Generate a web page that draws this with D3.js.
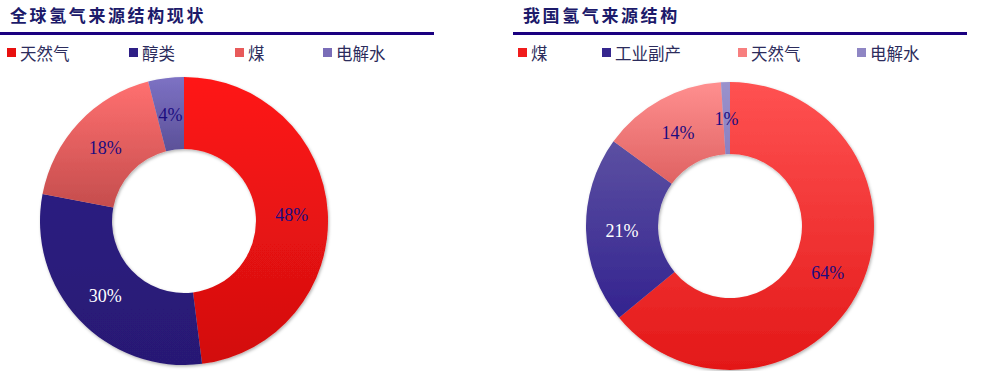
<!DOCTYPE html>
<html>
<head>
<meta charset="utf-8">
<script src="https://cdn.jsdelivr.net/npm/d3@7"></script>
<style>
  body { margin: 0; background: #fff; }
</style>
</head>
<body>
<script>
'use strict';

// left chart data
const globalTitle = "全球氢气来源结构现状";
const globalCats = ["天然气", "醇类", "煤", "电解水"];
const globalValues = [48, 30, 18, 4];

// right chart data
const chinaTitle = "我国氢气来源结构";
const chinaCats = ["煤", "工业副产", "天然气", "电解水"];
const chinaValues = [64, 21, 14, 1];

(function() {

  let svgContainer = "";

  window.onload = function() {
    svgContainer = d3.select('body')
      .append('svg')
      .attr('width', 985)
      .attr('height', 371);

    let defs = svgContainer.append('defs');
    let shadow = defs.append('filter')
      .attr('id', 'shadow')
      .attr('x', '-10%').attr('y', '-10%')
      .attr('width', '120%').attr('height', '120%');
    shadow.append('feDropShadow')
      .attr('dx', 1).attr('dy', 1.5)
      .attr('stdDeviation', 1.5)
      .attr('flood-color', '#000')
      .attr('flood-opacity', 0.3);

    makeDonut({
      id: 'g',
      title: globalTitle,
      cats: globalCats,
      values: globalValues,
      // [top colour, bottom colour] per slice
      colors: [['#ff1616', '#d20f0f'], ['#2c1c80', '#281974'], ['#ff7070', '#c54d4d'], ['#7d72c4', '#5b5098']],
      legendColors: ['#e8100f', '#2e1f86', '#e85a5a', '#7a6db8'],
      labelColors: ['#1b0c80', '#ffffff', '#1b0c80', '#1b0c80'],
      titleX: 10, lineX: [0, 434],
      legendX: [7, 129, 235, 323],
      cx: 184, cy: 221
    });

    makeDonut({
      id: 'c',
      title: chinaTitle,
      cats: chinaCats,
      values: chinaValues,
      colors: [['#ff5252', '#e31818'], ['#5c50a2', '#33238f'], ['#ff8f8f', '#df6262'], ['#9a92cc', '#8a80c2']],
      legendColors: ['#f01c1c', '#35268e', '#f77f7f', '#8f86c4'],
      labelColors: ['#1b0c80', '#ffffff', '#1b0c80', '#1b0c80'],
      titleX: 523, lineX: [513, 967],
      legendX: [518, 602, 738, 857],
      cx: 730, cy: 226
    });
  }

  // draw title, rule, legend and donut for one panel
  function makeDonut(cfg) {
    svgContainer.append('text')
      .attr('x', cfg.titleX)
      .attr('y', 22)
      .style('font-family', '"Noto Sans CJK SC", sans-serif')
      .style('font-weight', 'bold')
      .style('font-size', '17px')
      .style('letter-spacing', '2.6px')
      .attr('fill', '#1c1a6a')
      .text(cfg.title);

    svgContainer.append('line')
      .attr('x1', cfg.lineX[0]).attr('x2', cfg.lineX[1])
      .attr('y1', 33.5).attr('y2', 33.5)
      .attr('stroke', '#1a0080')
      .attr('stroke-width', 3);

    // legend
    let legend = svgContainer.append('g');
    cfg.cats.forEach((c, i) => {
      legend.append('rect')
        .attr('x', cfg.legendX[i]).attr('y', 48)
        .attr('width', 9).attr('height', 9)
        .attr('fill', cfg.legendColors[i]);
      legend.append('text')
        .attr('x', cfg.legendX[i] + 13)
        .attr('y', 59.5)
        .style('font-family', '"Noto Sans CJK SC", sans-serif')
        .style('font-size', '16.5px')
        .attr('fill', '#2c2c5c')
        .text(c);
    });

    // gradients per slice
    let defs = svgContainer.select('defs');
    cfg.colors.forEach((pair, i) => {
      let grad = defs.append('linearGradient')
        .attr('id', cfg.id + 'grad' + i)
        .attr('x1', 0).attr('y1', 0)
        .attr('x2', 0).attr('y2', 1);
      grad.append('stop').attr('offset', '0%').attr('stop-color', pair[0]);
      grad.append('stop').attr('offset', '100%').attr('stop-color', pair[1]);
    });

    let pie = d3.pie().sort(null).value((d) => d);
    let arcs = pie(cfg.values);
    let arc = d3.arc().innerRadius(72).outerRadius(144);
    let labelArc = d3.arc().innerRadius(108).outerRadius(108);

    let g = svgContainer.append('g')
      .attr('transform', 'translate(' + cfg.cx + ',' + cfg.cy + ')');

    g.append('g')
      .attr('filter', 'url(#shadow)')
      .selectAll('path')
      .data(arcs)
      .enter()
      .append('path')
        .attr('d', arc)
        .attr('fill', (d, i) => 'url(#' + cfg.id + 'grad' + i + ')');

    g.selectAll('.lbl')
      .data(arcs)
      .enter()
      .append('text')
        .attr('transform', (d) => 'translate(' + labelArc.centroid(d) + ')')
        .attr('text-anchor', 'middle')
        .attr('dy', '0.4em')
        .style('font-family', '"Liberation Serif", serif')
        .style('font-size', '18px')
        .attr('fill', (d, i) => cfg.labelColors[i])
        .text((d) => d.data + '%');
  }

})();
</script>
</body>
</html>
